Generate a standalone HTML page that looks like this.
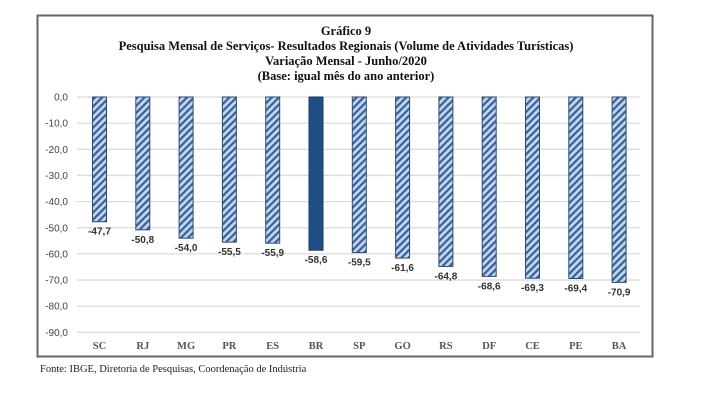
<!DOCTYPE html>
<html><head><meta charset="utf-8"><style>
html,body{margin:0;padding:0;background:#fff;width:715px;height:403px;overflow:hidden}
svg{display:block}
.t{font-family:"Liberation Serif",serif;font-weight:bold;font-size:12.5px;fill:#111}
.y{font-family:"Liberation Sans",sans-serif;font-size:10px;fill:#444}
.v{font-family:"Liberation Sans",sans-serif;font-size:10px;font-weight:bold;fill:#333}
.c{font-family:"Liberation Serif",serif;font-size:10.5px;font-weight:bold;fill:#555}
</style></head><body>
<svg width="715" height="403" viewBox="0 0 715 403">
<defs>
<pattern id="h" patternUnits="userSpaceOnUse" width="5" height="5" patternTransform="rotate(45)">
<rect width="5" height="5" fill="#bcd6f5"/><rect width="2.2" height="5" fill="#3d5f8f"/>
</pattern>
</defs>
<rect x="37.5" y="15.5" width="615" height="341" fill="#fff" stroke="#666" stroke-width="2"/>
<text class="t" x="346" y="35" text-anchor="middle">Gráfico 9</text>
<text class="t" x="346" y="50" text-anchor="middle">Pesquisa Mensal de Serviços- Resultados Regionais (Volume de Atividades Turísticas)</text>
<text class="t" x="346" y="65" text-anchor="middle">Variação Mensal - Junho/2020</text>
<text class="t" x="346" y="80" text-anchor="middle">(Base: igual mês do ano anterior)</text>
<g id="grid"></g>
<g id="bars"></g>
<text x="40" y="372" font-family="Liberation Serif,serif" font-size="10.5" fill="#222">Fonte: IBGE, Diretoria de Pesquisas, Coordenação de Indústria</text>
<script>
var ns="http://www.w3.org/2000/svg",g=document.getElementById('grid'),b=document.getElementById('bars');
function el(p,t,a,txt){var e=document.createElementNS(ns,t);for(var k in a)e.setAttribute(k,a[k]);if(txt!=null)e.textContent=txt;p.appendChild(e);return e;}
function Y(v){return 97-v*2.615;}
for(var i=0;i<=9;i++){var y=Y(-10*i);el(g,'line',{x1:77,x2:640,y1:y,y2:y,stroke:'#dcdcdc','stroke-width':1.3});el(g,'text',{class:'y',x:68,y:y+3.5,'text-anchor':'end'},(i?'-':'')+i*10+',0');}
var d=[['SC',-47.7],['RJ',-50.8],['MG',-54.0],['PR',-55.5],['ES',-55.9],['BR',-58.6],['SP',-59.5],['GO',-61.6],['RS',-64.8],['DF',-68.6],['CE',-69.3],['PE',-69.4],['BA',-70.9]];
d.forEach(function(r,i){var cx=99.5+i*43.3,br=r[0]=='BR';var h=Y(r[1])-97;
el(b,'rect',{x:cx-7,y:97,width:14,height:h,fill:br?'#1f4e85':'url(#h)',stroke:br?'#1a3e6a':'#2f4a70','stroke-width':1});
el(b,'text',{class:'v',x:cx,y:Y(r[1])+13,'text-anchor':'middle'},r[1].toFixed(1).replace('.',','));
el(b,'text',{class:'c',x:cx,y:349,'text-anchor':'middle'},r[0]);});
</script>
</svg>
</body></html>
